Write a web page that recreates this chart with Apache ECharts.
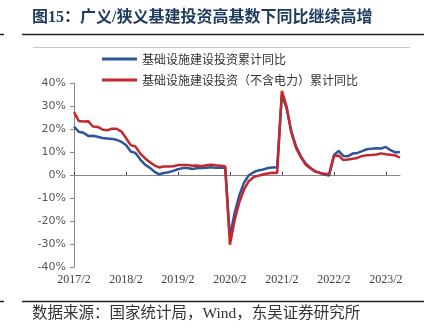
<!DOCTYPE html>
<html>
<head>
<meta charset="utf-8">
<script src="https://cdn.jsdelivr.net/npm/echarts@6/dist/echarts.min.js"></script>
<style>
  html, body { margin: 0; padding: 0; background: #ffffff; }
  #chart { width: 430px; height: 333px; }
</style>
</head>
<body>
<div id="chart"></div>
<script>
// Monthly cumulative data: Feb–Dec each year (Jan is reported together with Feb)
const years = [2017, 2018, 2019, 2020, 2021, 2022, 2023];
const lastMonth2023 = 5;

// 基础设施建设投资累计同比 (%)
const infraBroad = [
  21.0, 18.8, 18.4, 17.0, 17.1, 16.6, 16.1, 15.9, 15.7, 15.3, 14.5,
  13.0, 10.2, 9.6, 6.8, 4.6, 3.2, 1.5, 0.3, 0.9, 1.2, 1.8,
  2.5, 3.0, 3.0, 2.6, 2.9, 3.0, 3.2, 3.4, 3.1, 3.1, 3.3,
  -26.9, -16.4, -8.8, -3.3, -0.1, 1.2, 2.0, 2.4, 3.0, 3.3, 3.4,
  35.0, 29.0, 19.0, 12.4, 8.2, 5.0, 3.2, 1.7, 0.9, 0.2, -0.2,
  8.6, 10.5, 8.3, 8.2, 9.3, 9.6, 10.4, 11.2, 11.4, 11.6, 11.5,
  12.2, 10.8, 9.8, 10.0
];

// 基础设施建设投资（不含电力）累计同比 (%)
const infraExPower = [
  27.3, 23.5, 23.3, 23.4, 21.1, 20.9, 19.8, 19.4, 20.1, 20.1, 19.0,
  16.1, 13.0, 12.4, 9.4, 7.3, 5.7, 4.2, 3.3, 3.7, 3.7, 3.8,
  4.3, 4.4, 4.4, 4.0, 4.1, 3.8, 4.2, 4.5, 4.2, 4.0, 3.8,
  -30.3, -19.7, -11.8, -6.3, -2.7, -1.0, -0.3, 0.2, 0.7, 1.0, 0.9,
  36.6, 29.7, 18.4, 11.8, 7.8, 4.6, 2.9, 1.5, 1.0, 0.5, 0.4,
  8.1, 8.5, 6.5, 6.7, 7.1, 7.4, 8.3, 8.6, 8.7, 8.9, 9.4,
  9.0, 8.8, 8.5, 7.5
];

const seriesNames = ['基础设施建设投资累计同比', '基础设施建设投资（不含电力）累计同比'];
const titleText = '图15：广义/狭义基建投资高基数下同比继续高增';
const sourceText = '数据来源：国家统计局，Wind，东吴证券研究所';

// Category labels "YYYY/M"
const categories = [];
years.forEach(function (y) {
  const end = (y === 2023) ? lastMonth2023 : 12;
  for (let m = 2; m <= end; m++) categories.push(y + '/' + m);
});

const axisGray = '#868686';
const blue = '#2E5597';
const red = '#C3282C';

const chart = echarts.init(document.getElementById('chart'), null, { renderer: 'canvas' });

chart.setOption({
  animation: false,
  backgroundColor: '#ffffff',
  grid: { left: 74, right: 30, top: 83, bottom: 66, containLabel: false },
  legend: {
    orient: 'vertical',
    left: 97,
    top: 47,
    icon: 'rect',
    itemWidth: 35,
    itemHeight: 3,
    itemGap: 7,
    textStyle: { fontFamily: '"Noto Sans CJK SC"', fontSize: 12, color: '#333333', lineHeight: 14 },
    data: seriesNames
  },
  xAxis: [
    {
      type: 'category',
      data: categories,
      boundaryGap: false,
      position: 'bottom',
      axisLine: { show: false, onZero: false },
      axisTick: { show: false },
      axisLabel: {
        interval: 10,
        margin: 7,
        fontFamily: '"Liberation Serif"',
        fontSize: 12,
        color: '#404040'
      },
      splitLine: { show: false }
    },
    {
      type: 'category',
      data: categories,
      boundaryGap: false,
      position: 'bottom',
      axisLine: { show: true, onZero: true, lineStyle: { color: axisGray, width: 1 } },
      axisTick: { show: true, inside: true, length: 3, interval: 10, lineStyle: { color: '#404040' } },
      axisLabel: { show: false },
      splitLine: { show: false }
    }
  ],
  yAxis: {
    type: 'value',
    min: -40,
    max: 40,
    interval: 10,
    axisLine: { show: true, lineStyle: { color: axisGray, width: 1 } },
    axisTick: { show: true, length: 4, lineStyle: { color: axisGray } },
    axisLabel: {
      formatter: '{value}%',
      margin: 8,
      fontFamily: '"DejaVu Sans"',
      fontSize: 11,
      color: '#595959'
    },
    splitLine: { show: false }
  },
  series: [
    {
      name: seriesNames[0],
      type: 'line',
      xAxisIndex: 0,
      data: infraBroad,
      symbol: 'none',
      lineStyle: { color: blue, width: 2.5 },
      itemStyle: { color: blue },
      z: 2
    },
    {
      name: seriesNames[1],
      type: 'line',
      xAxisIndex: 0,
      data: infraExPower,
      symbol: 'none',
      lineStyle: { color: red, width: 2.5 },
      itemStyle: { color: red },
      z: 3
    }
  ],
  graphic: [
    {
      type: 'text',
      style: {
        x: 32, y: 18,
        text: titleText,
        font: 'bold 16px "Liberation Serif", "Noto Sans CJK SC"',
        fill: '#1F3A5F',
        verticalAlign: 'middle'
      }
    },
    { type: 'line', shape: { x1: 22, y1: 34.5, x2: 424, y2: 34.5 }, style: { stroke: '#222222', lineWidth: 1.5 } },
    { type: 'line', shape: { x1: 0, y1: 34.5, x2: 4, y2: 34.5 }, style: { stroke: '#222222', lineWidth: 1.5 } },
    { type: 'line', shape: { x1: 33, y1: 47.5, x2: 410, y2: 47.5 }, style: { stroke: '#C8C8C8', lineWidth: 1 } },
    { type: 'line', shape: { x1: 22, y1: 301.5, x2: 424, y2: 301.5 }, style: { stroke: '#222222', lineWidth: 1.5 } },
    { type: 'line', shape: { x1: 0, y1: 301.5, x2: 4, y2: 301.5 }, style: { stroke: '#222222', lineWidth: 1.5 } },
    {
      type: 'text',
      style: {
        x: 32, y: 314,
        text: sourceText,
        font: '15.5px "Liberation Serif", "Noto Sans CJK SC"',
        fill: '#333333',
        verticalAlign: 'middle'
      }
    }
  ]
});
</script>
</body>
</html>
